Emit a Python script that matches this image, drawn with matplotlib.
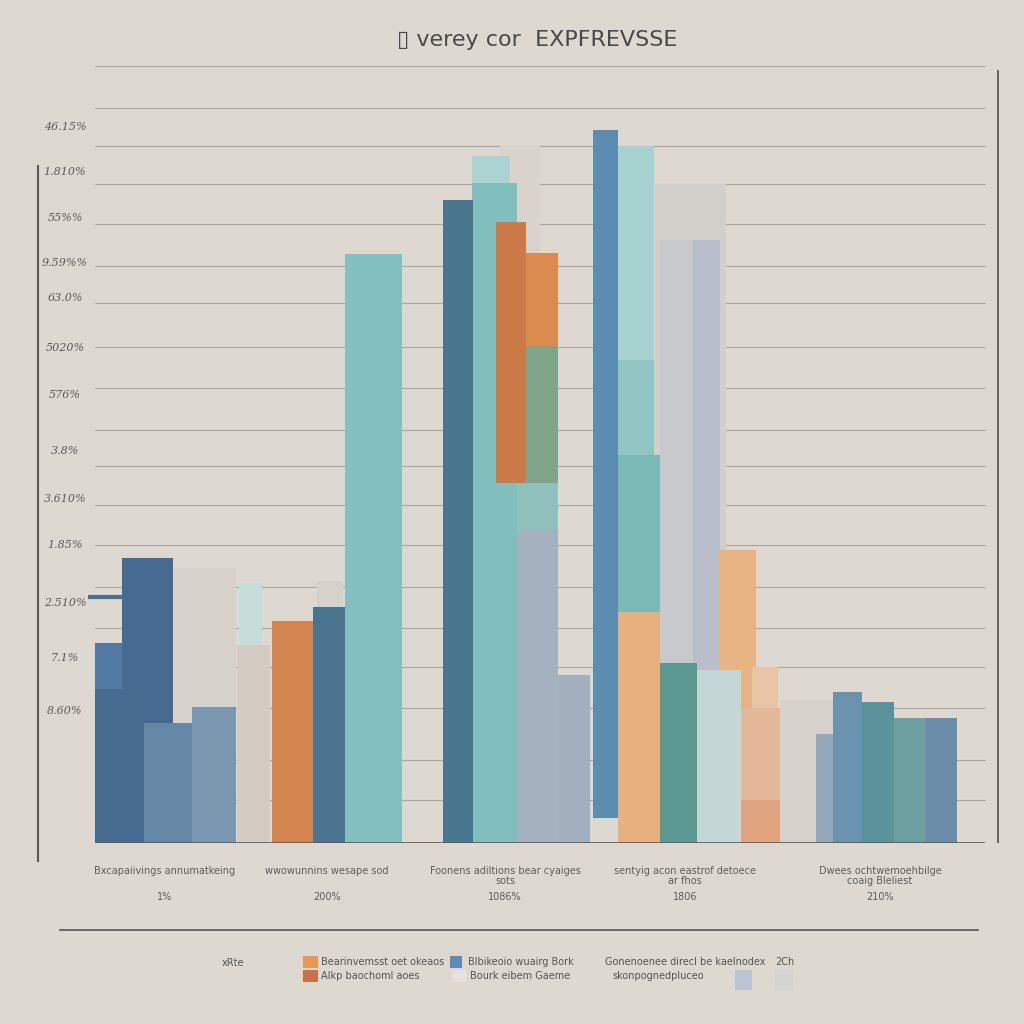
import matplotlib.pyplot as plt

BG = "#ddd8d0"
INK = "#4a4a4a"

# category centres (x units) and bottom labels
centers = [1.27, 2.89, 4.67, 6.47, 8.42]
cat_labels = ["Bxcapaiivings annumatkeing", "wwowunnins wesape sod",
              "Foonens adiltions bear cyaiges\nsots", "sentyig acon eastrof detoece\nar fhos",
              "Dwees ochtwemoehbilge\ncoaig Bleliest"]
cat_values = ["1%", "200%", "1086%", "1806", "210%"]

# group 1
g1_top = [35.4, 25.5, 33.5, 25.7, 36.7, 19.8, 15.4, 17.5]
g1_base = [0, 0, 25.5, 0, 0, 0, 0, 0]
g1_off = [0.08, 0.72, 0.74, -0.70, -0.43, -0.70, -0.21, 0.27]
g1_w = [0.63, 0.33, 0.23, 0.33, 0.51, 0.48, 0.48, 0.44]
g1_col = ["#d6d1c9", "#d4ccc2", "#c5dcd7", "#5279a2", "#476a91", "#466b8f", "#6488a6", "#7c98b1"]

# group 2
g2_top = [33.7, 28.6, 30.4, 75.8]
g2_base = [0, 0, 0, 0]
g2_off = [-0.10, -0.55, -0.14, 0.18]
g2_w = [0.26, 0.41, 0.42, 0.57]
g2_col = ["#d6d1c9", "#d4844e", "#4a7490", "#84c0bf"]

# group 3
g3_top = [89.7, 88.4, 84.9, 82.8, 46.3, 40.3, 79.9, 75.9, 64.0, 21.6]
g3_base = [0, 0, 0, 0, 40.3, 0, 46.3, 64.0, 46.3, 0]
g3_off = [-0.05, -0.33, -0.33, -0.62, 0.12, 0.12, -0.09, 0.21, 0.21, 0.53]
g3_w = [0.40, 0.38, 0.45, 0.30, 0.41, 0.41, 0.30, 0.32, 0.32, 0.32]
g3_col = ["#d8d3cb", "#aad3d2", "#80bfbd", "#4a7790", "#8fc0bb", "#a4b2bf",
          "#cc7a48", "#dc8b50", "#80a68a", "#a3b1be"]

# group 4
g4_top = [18.4, 84.8, 77.6, 77.6, 89.7, 62.2, 49.9, 29.7, 91.8, 37.7, 23.2, 22.3, 22.7, 17.4, 5.5]
g4_base = [0, 0, 0, 0, 0, 0, 0, 0, 3.2, 0, 0, 0, 0, 0, 0]
g4_off = [0.95, -0.31, -0.25, 0.08, -0.67, -0.67, -0.67, -0.67, -0.92, 0.34, -0.25, 0.12, 0.67, 0.56, 0.56]
g4_w = [0.30, 0.72, 0.33, 0.27, 0.36, 0.36, 0.42, 0.42, 0.25, 0.37, 0.37, 0.44, 0.26, 0.39, 0.39]
g4_col = ["#d6d1ca", "#d3d0cb", "#c8c9cc", "#b8bfcb", "#a6d3cf", "#90c5c2", "#7ab9b6",
          "#e6b07f", "#5b8db1", "#e8b483", "#5a9891", "#c4d6d6", "#e8c3a6", "#e3b899", "#dfa47f"]

# group 5
g5_top = [18.4, 14.0, 19.4, 18.1, 16.1, 16.1]
g5_base = [0, 0, 0, 0, 0, 0]
g5_off = [-0.70, -0.64, -0.47, -0.18, 0.14, 0.46]
g5_w = [0.30, 0.17, 0.29, 0.32, 0.32, 0.31]
g5_col = ["#d6d1ca", "#95a8bb", "#6a93ad", "#5a9399", "#6d9ea0", "#6c8daa"]

# y tick labels
ytick_vals = [92.1, 86.4, 80.4, 74.6, 70.1, 63.7, 57.7, 50.5, 44.3, 38.4, 30.9, 23.8, 17.0]
ytick_labels = ["46.15%", "1.810%", "55%%", "9.59%%", "63.0%", "5020%", "576%",
                "3.8%", "3.610%", "1.85%", "2.510%", "7.1%", "8.60%"]
grid_vals = [100, 94.6, 89.7, 84.8, 79.7, 74.3, 69.5, 63.8, 58.6, 53.2, 48.5,
             43.5, 38.4, 33.0, 27.7, 22.7, 17.4, 10.7, 5.5]

fig = plt.figure(figsize=(10.24, 10.24), dpi=100, facecolor=BG)
ax = fig.add_axes([38 / 1024, 181 / 1024, 960 / 1024, 777 / 1024])
ax.set_facecolor(BG)
ax.set_xlim(0, 9.6)
ax.set_ylim(0, 100)
ax.axis("off")

for g in grid_vals:
    ax.hlines(g, 0.57, 9.47, color="#aca59c", lw=0.8, zorder=1)

groups = [(g1_top, g1_base, g1_off, g1_w, g1_col),
          (g2_top, g2_base, g2_off, g2_w, g2_col),
          (g3_top, g3_base, g3_off, g3_w, g3_col),
          (g4_top, g4_base, g4_off, g4_w, g4_col),
          (g5_top, g5_base, g5_off, g5_w, g5_col)]
for c, (tops, bases, offs, ws, cols) in zip(centers, groups):
    for t, b, o, w, col in zip(tops, bases, offs, ws, cols):
        ax.bar(c + o, t - b, bottom=b, width=w, align="edge", color=col, lw=0, zorder=2)

ax.hlines(0, 0.57, 9.47, color="#5a5a5a", lw=1.2, zorder=3)
ax.vlines(0.0, -2.4, 87.3, color="#5a5a5a", lw=1.5, clip_on=False)
ax.vlines(9.6, 0, 99.5, color="#5a5a5a", lw=1.3, clip_on=False)
ax.hlines(31.7, 0.50, 0.84, color="#4a6f90", lw=3, zorder=3)

for v, lab in zip(ytick_vals, ytick_labels):
    ax.text(0.27, v, lab, ha="center", va="center", fontsize=8, color="#5a5a5a",
            family="DejaVu Serif", style="italic")

fig.text(537 / 1024, 1 - 40 / 1024, "\u25af verey cor  EXPFREVSSE", ha="center", va="center",
         fontsize=16, color=INK)

for c, lab, val in zip(centers, cat_labels, cat_values):
    xf = (38 + c * 100) / 1024
    fig.text(xf, 1 - 866 / 1024, lab, ha="center", va="top", fontsize=7, color="#5e5e5e",
             linespacing=1.0)
    fig.text(xf, 1 - 897 / 1024, val, ha="center", va="center", fontsize=7, color="#5e5e5e")

fig.add_artist(plt.Line2D([60 / 1024, 978 / 1024], [1 - 930 / 1024] * 2, color="#555555", lw=1.2))

# legend area
def swatch(x, y, w, h, color):
    fig.add_artist(plt.Rectangle((x / 1024, 1 - (y + h) / 1024), w / 1024, h / 1024,
                                 color=color, lw=0))

swatch(303, 956, 15, 12, "#e8965a")
swatch(303, 970, 15, 12, "#c8724a")
swatch(450, 956, 12, 12, "#5f8bb5")
swatch(452, 970, 14, 12, "#e6e3df")
swatch(735, 970, 17, 20, "#bcc3d3")
swatch(775, 970, 18, 20, "#d6d4d0")

leg_font = dict(fontsize=7, color="#555555", va="center")
fig.text(222 / 1024, 1 - 963 / 1024, "xRte", **leg_font)
fig.text(321 / 1024, 1 - 962 / 1024, "Bearinvemsst oet okeaos", **leg_font)
fig.text(321 / 1024, 1 - 976 / 1024, "AIkp baochoml aoes", **leg_font)
fig.text(468 / 1024, 1 - 962 / 1024, "Blbikeoio wuairg Bork", **leg_font)
fig.text(470 / 1024, 1 - 976 / 1024, "Bourk eibem Gaeme", **leg_font)
fig.text(605 / 1024, 1 - 962 / 1024, "Gonenoenee direcl be kaelnodex", **leg_font)
fig.text(775 / 1024, 1 - 962 / 1024, "2Ch", **leg_font)
fig.text(612 / 1024, 1 - 976 / 1024, "skonpognedpluceo", **leg_font)

fig.savefig("out.png", dpi=100, facecolor=BG)
